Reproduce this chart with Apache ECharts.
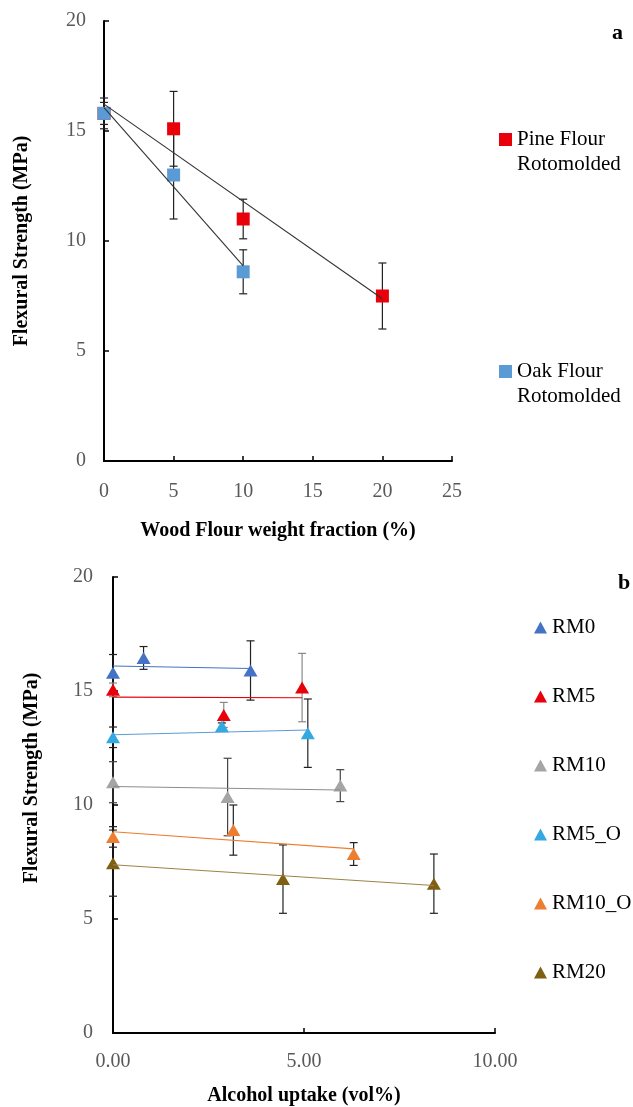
<!DOCTYPE html>
<html>
<head>
<meta charset="utf-8">
<script src="https://cdn.jsdelivr.net/npm/echarts@6/dist/echarts.min.js"></script>
<style>
  html, body { margin: 0; padding: 0; background: #fff; }
  #chart { width: 633px; height: 1107px; }
</style>
</head>
<body>
<div id="chart"></div>
<script>
// ===== panel a: wood flour fraction =====
const fracTicks = [0, 5, 10, 15, 20, 25];
const pineX = [0, 5, 10, 20];
const pineY = [15.8, 15.1, 11.0, 7.5];
const pineErr = [0.7, 1.7, 0.9, 1.5];
const oakX = [0, 5, 10];
const oakY = [15.8, 13.0, 8.6];
const oakErr = [0.5, 2.0, 1.0];

// ===== panel b: alcohol uptake =====
const rmNames = ["RM0", "RM5", "RM10", "RM5_O", "RM10_O", "RM20"];
const rm0X = [0, 0.8, 3.6];     const rm0Y = [15.8, 16.45, 15.9];   const rm0Err = [0.8, 0.5, 1.3];
const rm5X = [0, 2.9, 4.95];    const rm5Y = [15.05, 13.95, 15.15]; const rm5Err = [0.3, 0.55, 1.5];
const rm10X = [0, 3.0, 5.95];   const rm10Y = [11.0, 10.35, 10.85]; const rm10Err = [0.9, 1.7, 0.7];
const rm5oX = [0, 2.85, 5.1];   const rm5oY = [12.97, 13.45, 13.15]; const rm5oErr = [0.45, 0.15, 1.5];
const rm10oX = [0, 3.15, 6.3];  const rm10oY = [8.6, 8.9, 7.85];    const rm10oErr = [0.45, 1.1, 0.5];
const rm20X = [0, 4.45, 8.4];   const rm20Y = [7.45, 6.75, 6.55];   const rm20Err = [1.45, 1.5, 1.3];
const strengthTicks = [0, 5, 10, 15, 20];
const uptakeTicks = [0, 5, 10];

const SERIF = "'Liberation Serif', 'DejaVu Serif', serif";

// 最小二乘线性趋势线（两端点）
function trend(xs, ys) {
    const n = xs.length;
    const mx = xs.reduce((a, b) => a + b, 0) / n;
    const my = ys.reduce((a, b) => a + b, 0) / n;
    let sxy = 0, sxx = 0;
    xs.forEach((x, i) => { sxy += (x - mx) * (ys[i] - my); sxx += (x - mx) * (x - mx); });
    const k = sxy / sxx, b = my - k * mx;
    const x0 = Math.min(...xs), x1 = Math.max(...xs);
    return [[x0, b + k * x0], [x1, b + k * x1]];
}

function errSeries(xs, ys, es, idx, color) {
    return {
        type: "custom", xAxisIndex: idx, yAxisIndex: idx, z: 1, silent: true,
        data: xs.map((x, i) => [x, ys[i] - es[i], ys[i] + es[i]]),
        encode: { x: 0, y: [1, 2] },
        renderItem: (params, api) => {
            const lo = api.coord([api.value(0), api.value(1)]);
            const hi = api.coord([api.value(0), api.value(2)]);
            const w = 4;
            const st = { stroke: color, lineWidth: 1.2 };
            return {
                type: "group", children: [
                    { type: "line", shape: { x1: lo[0], y1: lo[1], x2: hi[0], y2: hi[1] }, style: st },
                    { type: "line", shape: { x1: lo[0] - w, y1: lo[1], x2: lo[0] + w, y2: lo[1] }, style: st },
                    { type: "line", shape: { x1: hi[0] - w, y1: hi[1], x2: hi[0] + w, y2: hi[1] }, style: st }
                ]
            };
        }
    };
}

function pts(xs, ys) { return xs.map((x, i) => [x, ys[i]]); }

function trendSeries(xs, ys, idx, color) {
    return {
        type: "line", xAxisIndex: idx, yAxisIndex: idx, z: 3, silent: true,
        data: trend(xs, ys), symbol: "none",
        lineStyle: { color, width: 1.1 }
    };
}

function axisBase(margin) {
    return {
        axisLine: { lineStyle: { color: "#000", width: 2 } },
        axisTick: { inside: true, length: 5, lineStyle: { color: "#000", width: 1.5 } },
        axisLabel: { color: "#595959", fontFamily: SERIF, fontSize: 20, margin },
        splitLine: { show: false }
    };
}

const chart = echarts.init(document.getElementById("chart"));

const rmSets = [
    { name: "RM0", x: rm0X, y: rm0Y, e: rm0Err, color: "#4472C4", line: "#4472C4", bar: "#222" },
    { name: "RM5", x: rm5X, y: rm5Y, e: rm5Err, color: "#E8000B", line: "#E8000B", bar: "#888" },
    { name: "RM10", x: rm10X, y: rm10Y, e: rm10Err, color: "#A5A5A5", line: "#8C8C8C", bar: "#444" },
    { name: "RM5_O", x: rm5oX, y: rm5oY, e: rm5oErr, color: "#33A9E2", line: "#5B9BD5", bar: "#222" },
    { name: "RM10_O", x: rm10oX, y: rm10oY, e: rm10oErr, color: "#ED7D31", line: "#ED7D31", bar: "#222" },
    { name: "RM20", x: rm20X, y: rm20Y, e: rm20Err, color: "#7F5F12", line: "#9C8447", bar: "#222" }
];

const series = [
    errSeries(pineX, pineY, pineErr, 0, "#222"),
    errSeries(oakX, oakY, oakErr, 0, "#222"),
    { name: "Pine Flour", type: "scatter", xAxisIndex: 0, yAxisIndex: 0, z: 2, symbol: "rect", symbolSize: 13,
      itemStyle: { color: "#E8000B", opacity: 1 }, data: pts(pineX, pineY) },
    { name: "Oak Flour", type: "scatter", xAxisIndex: 0, yAxisIndex: 0, z: 2, symbol: "rect", symbolSize: 13,
      itemStyle: { color: "#5B9BD5", opacity: 1 }, data: pts(oakX, oakY) },
    trendSeries(pineX, pineY, 0, "#333"),
    trendSeries(oakX, oakY, 0, "#333")
];

rmSets.forEach(s => {
    series.push(errSeries(s.x, s.y, s.e, 1, s.bar));
    series.push({ name: s.name, type: "scatter", xAxisIndex: 1, yAxisIndex: 1, z: 2, symbol: "triangle",
        symbolSize: [14, 12], itemStyle: { color: s.color, opacity: 1 }, data: pts(s.x, s.y) });
    series.push(trendSeries(s.x, s.y, 1, s.line));
});

const legendText = { fontFamily: SERIF, fontSize: 21, color: "#000", lineHeight: 25 };
// 图例文字首行与图标对齐：前面补一空行
const twoLine = n => "\u00a0\n" + n + "\nRotomolded";

chart.setOption({
    animation: false,
    grid: [
        { left: 104, top: 21, width: 348, height: 440 },
        { left: 113, top: 577, width: 382, height: 456 }
    ],
    xAxis: [
        Object.assign(axisBase(21), {
            type: "value", gridIndex: 0, min: fracTicks[0], max: fracTicks[fracTicks.length - 1], interval: 5,
            name: "Wood Flour weight fraction (%)", nameLocation: "middle", nameGap: 60,
            nameTextStyle: { fontFamily: SERIF, fontSize: 20, fontWeight: "bold", color: "#000" }
        }),
        Object.assign(axisBase(19), {
            type: "value", gridIndex: 1, min: uptakeTicks[0], max: uptakeTicks[uptakeTicks.length - 1], interval: 5,
            name: "Alcohol uptake (vol%)", nameLocation: "middle", nameGap: 53,
            nameTextStyle: { fontFamily: SERIF, fontSize: 20, fontWeight: "bold", color: "#000" }
        })
    ],
    yAxis: [
        Object.assign(axisBase(18), {
            type: "value", gridIndex: 0, min: strengthTicks[0], max: strengthTicks[strengthTicks.length - 1], interval: 5
        }),
        Object.assign(axisBase(20), {
            type: "value", gridIndex: 1, min: strengthTicks[0], max: strengthTicks[strengthTicks.length - 1], interval: 5
        })
    ],
    legend: [
        { data: ["Pine Flour"], orient: "vertical", left: 499, top: 102, padding: 0, icon: "rect",
          itemWidth: 13, itemHeight: 13, formatter: twoLine, textStyle: legendText, selectedMode: false },
        { data: ["Oak Flour"], orient: "vertical", left: 499, top: 334, padding: 0, icon: "rect",
          itemWidth: 13, itemHeight: 13, formatter: twoLine, textStyle: legendText, selectedMode: false },
        { data: rmNames, orient: "vertical", left: 534, top: 615, padding: 0, icon: "triangle",
          itemWidth: 13, itemHeight: 12, itemGap: 44, textStyle: legendText, selectedMode: false }
    ],
    graphic: [
        { type: "text", left: 612, top: 22, style: { text: "a", font: "bold 22px " + SERIF, fill: "#000" } },
        { type: "text", left: 618, top: 572, style: { text: "b", font: "bold 22px " + SERIF, fill: "#000" } },
        { type: "text", x: 22, y: 241, rotation: Math.PI / 2,
          style: { text: "Flexural Strength (MPa)", font: "bold 20px " + SERIF, fill: "#000", align: "center", verticalAlign: "middle" } },
        { type: "text", x: 32, y: 778, rotation: Math.PI / 2,
          style: { text: "Flexural Strength (MPa)", font: "bold 20px " + SERIF, fill: "#000", align: "center", verticalAlign: "middle" } }
    ],
    series
});
// x 轴 b 的刻度格式 0.00
chart.setOption({ xAxis: [{}, { axisLabel: { formatter: v => v.toFixed(2) } }] });
</script>
</body>
</html>
